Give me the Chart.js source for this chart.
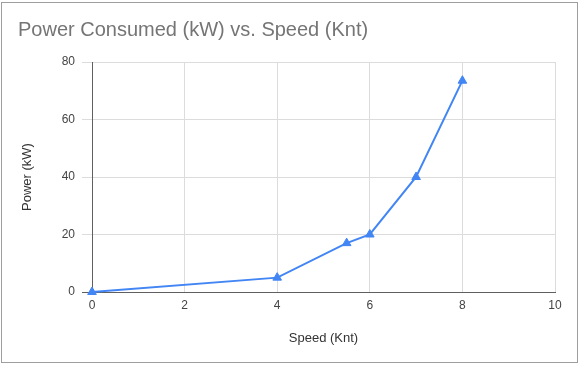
<!DOCTYPE html>
<html>
<head>
<meta charset="utf-8">
<script src="https://cdn.jsdelivr.net/npm/chart.js@4"></script>
<style>
    body { margin: 0; background: #fff; }
    #wrap { position: relative; width: 586px; height: 365px; }
    #frame {
        position: absolute; left: 1px; top: 2px; width: 575px; height: 359px;
        border: 1px solid #9e9e9e; pointer-events: none;
    }
</style>
</head>
<body>
<div id="wrap">
    <canvas id="chart" width="586" height="365"></canvas>
    <div id="frame"></div>
</div>
<script>
// Data
const speedKnt = [0, 4, 5.5, 6, 7, 8];
const powerKw = [0, 5, 17, 20, 40, 73.5];
const xTicks = [0, 2, 4, 6, 8, 10];
const yTicks = [0, 20, 40, 60, 80];

const FONT = '"Liberation Sans", Arial, sans-serif';
const BLUE = '#4285f4';

const ctx = document.getElementById('chart').getContext('2d');

new Chart(ctx, {
    type: 'line',
    data: {
        datasets: [{
            label: 'Power (kW)',
            data: speedKnt.map((s, i) => ({ x: s, y: powerKw[i] })),
            borderColor: BLUE,
            backgroundColor: BLUE,
            borderWidth: 2,
            pointStyle: 'triangle',
            pointRadius: 5,
            pointBorderWidth: 1,
            tension: 0,
            clip: false
        }]
    },
    options: {
        responsive: false,
        animation: false,
        layout: { padding: { left: 18, right: 31, top: 0, bottom: 15 } },
        plugins: {
            legend: { display: false },
            tooltip: { enabled: false },
            title: {
                display: true,
                text: 'Power Consumed (kW) vs. Speed (Knt)',
                align: 'start',
                color: '#757575',
                font: { family: FONT, size: 20, weight: 'normal' },
                padding: { top: 18, bottom: 20 }
            }
        },
        scales: {
            x: {
                type: 'linear',
                min: 0,
                max: 10,
                afterBuildTicks: scale => { scale.ticks = xTicks.map(v => ({ value: v })); },
                afterFit: scale => { scale.height = 58; },
                grid: { color: '#dcdcdc', drawTicks: false },
                border: { color: '#5f5f5f', width: 1 },
                ticks: {
                    padding: 6,
                    color: '#444',
                    font: { family: FONT, size: 12 }
                },
                title: {
                    display: true,
                    text: 'Speed (Knt)',
                    color: '#333',
                    font: { family: FONT, size: 13 },
                    padding: { top: 19, bottom: 4 }
                }
            },
            y: {
                min: 0,
                max: 80,
                afterBuildTicks: scale => { scale.ticks = yTicks.map(v => ({ value: v })); },
                afterFit: scale => { scale.width = 74; },
                grid: {
                    color: c => (c.tick && c.tick.value === 0 ? '#5f5f5f' : '#dcdcdc'),
                    tickLength: 10
                },
                border: { color: '#5f5f5f', width: 1 },
                ticks: {
                    padding: 7,
                    color: '#444',
                    font: { family: FONT, size: 12 }
                },
                title: {
                    display: true,
                    text: 'Power (kW)',
                    color: '#333',
                    font: { family: FONT, size: 13 },
                    padding: { top: 2, bottom: 25 }
                }
            }
        }
    }
});
</script>
</body>
</html>
